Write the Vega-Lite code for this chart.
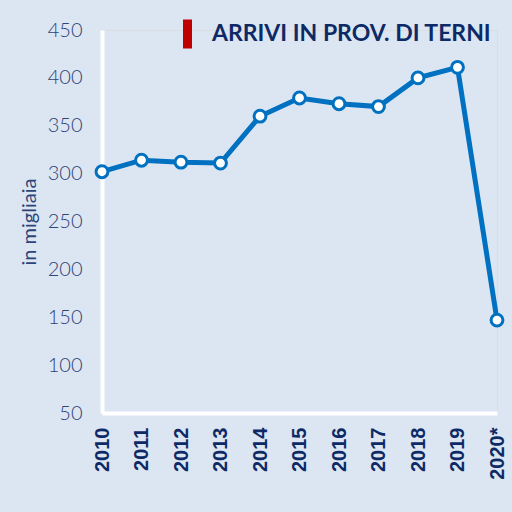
{
  "$schema": "https://vega.github.io/schema/vega-lite/v6.json",
  "width": 395,
  "height": 383,
  "autosize": {"type": "none"},
  "padding": {"left": 102, "top": 30, "right": 15, "bottom": 99},
  "background": "#dce6f2",
  "data": {
    "values": [
      {"anno": "2010", "arrivi": 302, "serie": "ARRIVI IN PROV. DI TERNI"},
      {"anno": "2011", "arrivi": 314, "serie": "ARRIVI IN PROV. DI TERNI"},
      {"anno": "2012", "arrivi": 312, "serie": "ARRIVI IN PROV. DI TERNI"},
      {"anno": "2013", "arrivi": 311, "serie": "ARRIVI IN PROV. DI TERNI"},
      {"anno": "2014", "arrivi": 360, "serie": "ARRIVI IN PROV. DI TERNI"},
      {"anno": "2015", "arrivi": 379, "serie": "ARRIVI IN PROV. DI TERNI"},
      {"anno": "2016", "arrivi": 373, "serie": "ARRIVI IN PROV. DI TERNI"},
      {"anno": "2017", "arrivi": 370, "serie": "ARRIVI IN PROV. DI TERNI"},
      {"anno": "2018", "arrivi": 400, "serie": "ARRIVI IN PROV. DI TERNI"},
      {"anno": "2019", "arrivi": 411, "serie": "ARRIVI IN PROV. DI TERNI"},
      {"anno": "2020*", "arrivi": 147, "serie": "ARRIVI IN PROV. DI TERNI"}
    ]
  },
  "encoding": {
    "x": {
      "field": "anno", "type": "ordinal",
      "scale": {"type": "point", "padding": 0},
      "axis": {
        "title": null, "labelAngle": -90, "labelFont": "Liberation Sans",
        "labelFontWeight": "bold", "labelFontSize": 20, "labelColor": "#0d2a66",
        "labelPadding": 14, "ticks": false, "domainColor": "#ffffff", "domainWidth": 4,
        "grid": false
      }
    },
    "y": {
      "field": "arrivi", "type": "quantitative",
      "scale": {"domain": [50, 450], "nice": false, "zero": false},
      "axis": {
        "title": "in migliaia", "titleFont": "Lato", "titleFontWeight": "normal",
        "titleFontSize": 20, "titleColor": "#2d4478", "titlePadding": 8,
        "values": [50, 100, 150, 200, 250, 300, 350, 400, 450],
        "labelFont": "Lato", "labelFontSize": 20, "labelFontWeight": 300, "labelColor": "#2d4478",
        "labelPadding": 20, "ticks": false, "domainColor": "#ffffff", "domainWidth": 4,
        "grid": false
      }
    }
  },
  "layer": [
    {
      "mark": {"type": "line", "strokeWidth": 5, "color": "#0070c0"},
      "encoding": {
        "color": {
          "field": "serie", "type": "nominal",
          "scale": {"range": ["#0070c0"]},
          "legend": {
            "orient": "none", "legendX": 71, "legendY": -10.5, "padding": 0,
            "title": null, "symbolType": "M-0.31,-1H0.31V1H-0.31Z", "symbolSize": 841,
            "symbolStrokeWidth": 0, "labelOffset": 10,
            "labelFont": "Lato", "labelFontWeight": "bold", "labelFontSize": 23,
            "labelColor": "#0d2a66", "labelLimit": 400,
            "encode": {"symbols": {"update": {"fill": {"value": "#c00000"}, "stroke": {"value": "#c00000"}, "opacity": {"value": 1}}}}
          }
        }
      }
    },
    {
      "mark": {"type": "point", "filled": true, "fill": "#ffffff", "stroke": "#0070c0", "strokeWidth": 3, "size": 140, "opacity": 1}
    }
  ]
}
